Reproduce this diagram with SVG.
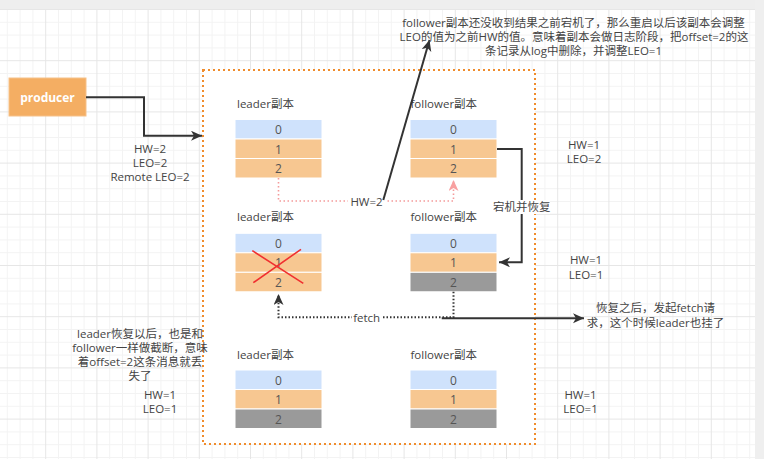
<svg xmlns="http://www.w3.org/2000/svg" width="764" height="459" viewBox="0 0 764 459">
<style>
.t{font-family:"Open Sans","Noto Sans CJK SC",sans-serif;font-size:11.5px;fill:#444;dominant-baseline:central}
.m{text-anchor:middle}
.n{font-family:"Open Sans","Noto Sans CJK SC",sans-serif;font-size:12px;fill:#555;text-anchor:middle;dominant-baseline:central}
.blue{fill:#cfe2fc;stroke:#fff;stroke-width:1}
.org{fill:#f7c791;stroke:#fff;stroke-width:1}
.gray{fill:#9a9a9a;stroke:#fff;stroke-width:1}
.dark{fill:none;stroke:#333;stroke-width:2}
.bg{fill:#fff}
</style>
<defs>
<pattern id="grid" x="45.2" y="60.2" width="51.2" height="51.2" patternUnits="userSpaceOnUse">
<path d="M13.3 0V51.2M26.1 0V51.2M38.9 0V51.2M0 13.3H51.2M0 26.1H51.2M0 38.9H51.2" stroke="#f3f3f3" stroke-width="1" fill="none"/>
<path d="M0.5 0V51.2M0 0.5H51.2" stroke="#e6e6e6" stroke-width="1" fill="none"/>
</pattern>
<marker id="ab" markerUnits="userSpaceOnUse" markerWidth="14" markerHeight="12" refX="11" refY="5" orient="auto">
<path d="M0 0L11 5L0 10L3 5z" fill="#333"/>
</marker>
<marker id="ap" markerUnits="userSpaceOnUse" markerWidth="14" markerHeight="12" refX="11" refY="5" orient="auto">
<path d="M0 0L11 5L0 10L3 5z" fill="#f8a0a0"/>
</marker>
</defs>
<rect width="764" height="459" fill="#fff"/>
<rect width="764" height="459" fill="url(#grid)"/>
<rect x="0" y="0" width="764" height="9" fill="#eeeeee"/>
<rect x="755" y="0" width="9" height="459" fill="#efefef"/>

<g id="container">
<rect x="203" y="70" width="332" height="374" fill="#fff" stroke="#f08c2c" stroke-width="2" stroke-dasharray="2 3"/>
</g>

<g id="producer">
<rect x="9" y="78" width="77" height="38" fill="#f4ae63" stroke="#f6c18a" stroke-width="1"/>
<text class="t m" x="47.5" y="97" style="fill:#fff;font-weight:bold;font-size:12px">producer</text>
</g>

<g id="leader1">
<text class="t" x="237" y="103.5">leader副本</text>
<rect class="blue" x="235" y="119.5" width="87" height="19.5"/>
<rect class="org" x="235" y="139" width="87" height="19.5"/>
<rect class="org" x="235" y="158.5" width="87" height="19.5"/>
<text class="n" x="278.5" y="129.5">0</text>
<text class="n" x="278.5" y="149">1</text>
<text class="n" x="278.5" y="168.5">2</text>
</g>
<g id="follower1">
<text class="t" x="410.5" y="103.5">follower副本</text>
<rect class="blue" x="410" y="119.5" width="87" height="19.5"/>
<rect class="org" x="410" y="139" width="87" height="19.5"/>
<rect class="org" x="410" y="158.5" width="87" height="19.5"/>
<text class="n" x="453.5" y="129.5">0</text>
<text class="n" x="453.5" y="149">1</text>
<text class="n" x="453.5" y="168.5">2</text>
</g>

<g id="leader2">
<text class="t" x="237" y="216.7">leader副本</text>
<rect class="blue" x="235" y="233.3" width="87" height="19.5"/>
<rect class="org" x="235" y="252.8" width="87" height="19.5"/>
<rect class="org" x="235" y="272.3" width="87" height="19.5"/>
<text class="n" x="278.5" y="243.3">0</text>
<text class="n" x="278.5" y="262.8">1</text>
<text class="n" x="278.5" y="282.3">2</text>
<path d="M252.3 250.7L303.3 283.3M301 249.3L253.3 282.7" stroke="#f03030" stroke-width="1.6" fill="none"/>
</g>
<g id="follower2">
<text class="t" x="410.5" y="216.7">follower副本</text>
<rect class="blue" x="410" y="233.3" width="87" height="19.5"/>
<rect class="org" x="410" y="252.8" width="87" height="19.5"/>
<rect class="gray" x="410" y="272.3" width="87" height="19.5"/>
<text class="n" x="453.5" y="243.3">0</text>
<text class="n" x="453.5" y="262.8">1</text>
<text class="n" x="453.5" y="282.3">2</text>
</g>

<g id="leader3">
<text class="t" x="237" y="354">leader副本</text>
<rect class="blue" x="235" y="370" width="87" height="19.5"/>
<rect class="org" x="235" y="389.5" width="87" height="19.5"/>
<rect class="gray" x="235" y="409" width="87" height="19.5"/>
<text class="n" x="278.5" y="380">0</text>
<text class="n" x="278.5" y="399.5">1</text>
<text class="n" x="278.5" y="419">2</text>
</g>
<g id="follower3">
<text class="t" x="410.5" y="354">follower副本</text>
<rect class="blue" x="410" y="370" width="87" height="19.5"/>
<rect class="org" x="410" y="389.5" width="87" height="19.5"/>
<rect class="gray" x="410" y="409" width="87" height="19.5"/>
<text class="n" x="453.5" y="380">0</text>
<text class="n" x="453.5" y="399.5">1</text>
<text class="n" x="453.5" y="419">2</text>
</g>

<g id="connectors">
<path class="dark" d="M86 97.3H144V135.7H202" marker-end="url(#ab)"/>
<path d="M278.5 178V201H453.5V180" fill="none" stroke="#f49a9a" stroke-width="1.6" stroke-dasharray="1.5 2.5" marker-end="url(#ap)"/>
<rect class="bg" x="348" y="194" width="37" height="14"/>
<text class="t m" x="366.5" y="201">HW=2</text>
<path class="dark" d="M383.3 200L429.5 40" marker-end="url(#ab)"/>
<path class="dark" d="M497 149H521.7V262.3H499" marker-end="url(#ab)"/>
<rect class="bg" x="493" y="200" width="57" height="14"/>
<text class="t m" x="521.7" y="206.7">宕机并恢复</text>
<path d="M453.5 291.8V317.3H278.5V294" fill="none" stroke="#333" stroke-width="2" stroke-dasharray="1.5 2" marker-end="url(#ab)"/>
<rect class="bg" x="352" y="310" width="30" height="14"/>
<text class="t m" x="366.7" y="317">fetch</text>
<path class="dark" d="M441.7 318.3H584" marker-end="url(#ab)"/>
</g>

<g id="labels">
<text class="t m" x="150" y="148.5">HW=2</text>
<text class="t m" x="150" y="162.5">LEO=2</text>
<text class="t m" x="150" y="176.5">Remote LEO=2</text>
<text class="t m" x="573.5" y="22.3">follower副本还没收到结果之前宕机了，那么重启以后该副本会调整</text>
<text class="t m" x="574" y="36">LEO的值为之前HW的值。意味着副本会做日志阶段，把offset=2的这</text>
<text class="t m" x="573.5" y="50">条记录从log中删除，并调整LEO=1</text>
<text class="t m" x="584" y="144.5">HW=1</text>
<text class="t m" x="584" y="158.5">LEO=2</text>
<text class="t m" x="586" y="259.3">HW=1</text>
<text class="t m" x="586" y="274">LEO=1</text>
<text class="t m" x="655.5" y="307.7">恢复之后，发起fetch请</text>
<text class="t m" x="655.5" y="322.3">求，这个时候leader也挂了</text>
<text class="t m" x="140" y="333.5">leader恢复以后，也是和</text>
<text class="t m" x="140" y="347.5">follower一样做截断，意味</text>
<text class="t m" x="140" y="361.5">着offset=2这条消息就丢</text>
<text class="t m" x="140" y="375.5">失了</text>
<text class="t m" x="160" y="394.5">HW=1</text>
<text class="t m" x="160" y="408.5">LEO=1</text>
<text class="t m" x="580.5" y="394">HW=1</text>
<text class="t m" x="580.5" y="408.3">LEO=1</text>
</g>
</svg>
